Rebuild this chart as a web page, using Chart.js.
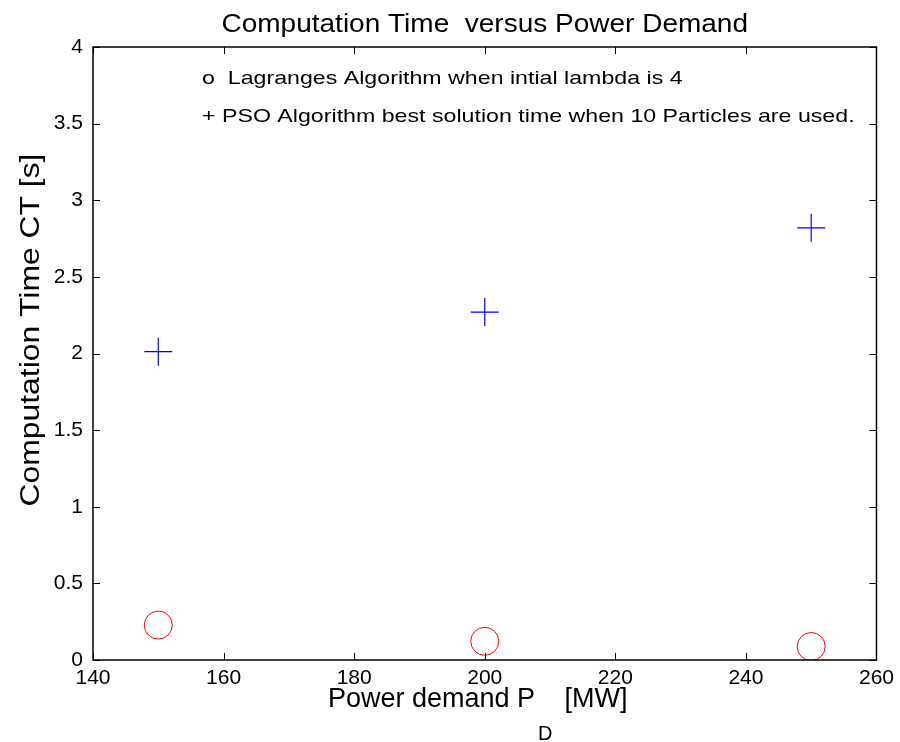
<!DOCTYPE html>
<html lang="en">
  <head>
    <meta charset="UTF-8" />
    <title>Computation Time versus Power Demand</title>
    <script src="https://cdn.jsdelivr.net/npm/chart.js"></script>
    <style>
      html, body { margin: 0; padding: 0; background: #fff; }
      #wrap { width: 900px; height: 742px; }
    </style>
  </head>
  <body>
    <div id="wrap"><canvas id="myChart"></canvas></div>
    <script>
      // power demand (MW)
      var demand = [150, 200, 250];
      // computation times (s)
      var lagrangeTime = [0.228, 0.122, 0.088];
      var psoTime = [2.012, 2.27, 2.82];
      var xTicks = [140, 160, 180, 200, 220, 240, 260];
      var yTicks = [0, 0.5, 1, 1.5, 2, 2.5, 3, 3.5, 4];

      var font = "'Liberation Sans', Arial, sans-serif";

      // text a little wider than normal, like the matlab export
      function wideText(c, txt, x, y, sx, align) {
        c.save();
        c.translate(x, y);
        c.scale(sx, 1);
        c.textAlign = align || "left";
        c.fillText(txt, 0, 0);
        c.restore();
      }

      // box, inward ticks, title, labels and notes
      var matlabBox = {
        id: "matlabBox",
        afterDraw: function (chart) {
          var c = chart.ctx;
          var a = chart.chartArea;
          var xs = chart.scales.x;
          var ys = chart.scales.y;
          c.save();
          c.strokeStyle = "#000";
          c.lineWidth = 1.5;
          c.strokeRect(a.left, a.top, a.right - a.left, a.bottom - a.top);
          c.lineWidth = 1;
          c.beginPath();
          xTicks.forEach(function (v) {
            var px = Math.round(xs.getPixelForValue(v)) + 0.5;
            c.moveTo(px, a.bottom); c.lineTo(px, a.bottom - 7);
            c.moveTo(px, a.top); c.lineTo(px, a.top + 7);
          });
          yTicks.forEach(function (v) {
            var py = Math.round(ys.getPixelForValue(v)) + 0.5;
            c.moveTo(a.left, py); c.lineTo(a.left + 7, py);
            c.moveTo(a.right, py); c.lineTo(a.right - 7, py);
          });
          c.stroke();

          c.fillStyle = "#000";
          c.textBaseline = "alphabetic";
          // title
          c.font = "25px " + font;
          wideText(c, "Computation Time  versus Power Demand", (a.left + a.right) / 2, 32, 1.12, "center");

          // notes inside the axes
          c.font = "19px " + font;
          wideText(c, "o  Lagranges Algorithm when intial lambda is 4", 202, 84, 1.22);
          wideText(c, "+ PSO Algorithm best solution time when 10 Particles are used.", 202, 122, 1.22);

          // x label with subscript
          var part1 = "Power demand P";
          var part3 = "  [MW]";
          c.font = "27px " + font;
          var w1 = c.measureText(part1).width;
          var w3 = c.measureText(part3).width;
          c.font = "20px " + font;
          var w2 = c.measureText("D").width;
          var x0 = (a.left + a.right) / 2 - 7 - (w1 + w2 + w3) / 2;
          c.textAlign = "left";
          c.font = "27px " + font;
          c.fillText(part1, x0, 707);
          c.font = "20px " + font;
          c.fillText("D", x0 + w1 + 3, 740);
          c.font = "27px " + font;
          c.fillText(part3, x0 + w1 + w2, 707);

          // y label
          c.translate(39, 330);
          c.rotate(-Math.PI / 2);
          c.font = "27px " + font;
          wideText(c, "Computation Time CT [s]", 0, 0, 1.18, "center");
          c.restore();
        },
      };

      var ctx = document.getElementById("myChart").getContext("2d");
      var chart = new Chart(ctx, {
        type: "scatter",
        data: {
          datasets: [
            {
              label: "Lagrange",
              data: demand.map(function (d, i) { return { x: d, y: lagrangeTime[i] }; }),
              pointStyle: "circle",
              pointRadius: 14,
              pointBorderColor: "#ff0000",
              pointBackgroundColor: "rgba(0,0,0,0)",
              pointBorderWidth: 1,
            },
            {
              label: "PSO",
              data: demand.map(function (d, i) { return { x: d, y: psoTime[i] }; }),
              pointStyle: "cross",
              pointRadius: 14,
              pointBorderColor: "#0000ff",
              pointBorderWidth: 1.2,
            },
          ],
        },
        options: {
          responsive: true,
          maintainAspectRatio: false,
          animation: false,
          layout: { padding: { left: 0, right: 23, top: 47, bottom: 0 } },
          plugins: {
            legend: { display: false },
            tooltip: { enabled: false },
          },
          scales: {
            x: {
              type: "linear",
              min: 140,
              max: 260,
              afterFit: function (s) { s.height = 82; },
              afterBuildTicks: function (s) { s.ticks = xTicks.map(function (v) { return { value: v }; }); },
              grid: { drawOnChartArea: false, drawTicks: false },
              border: { display: false },
              ticks: { color: "#000", padding: 6, font: { family: font, size: 21 }, callback: function (v) { return String(v); } },
            },
            y: {
              min: 0,
              max: 4,
              afterFit: function (s) { s.width = 93; },
              afterBuildTicks: function (s) { s.ticks = yTicks.map(function (v) { return { value: v }; }); },
              grid: { drawOnChartArea: false, drawTicks: false },
              border: { display: false },
              ticks: { color: "#000", padding: 10, font: { family: font, size: 21 }, callback: function (v) { return String(v); } },
            },
          },
        },
        plugins: [matlabBox],
      });
    </script>
  </body>
</html>
